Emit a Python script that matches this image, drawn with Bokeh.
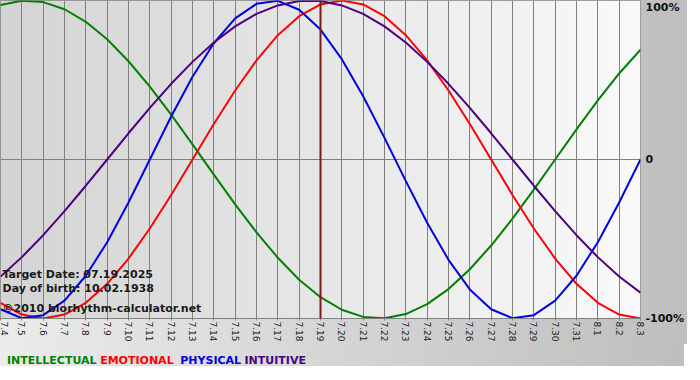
import math
import numpy as np
from bokeh.plotting import figure
from bokeh.layouts import column
from bokeh.models import Range1d, FixedTicker, Span, Label, LinearAxis
from bokeh.core.properties import value
from bokeh.embed import file_html
from bokeh.resources import INLINE

# ---- data ----
dates = ["7.4", "7.5", "7.6", "7.7", "7.8", "7.9", "7.10", "7.11", "7.12", "7.13",
         "7.14", "7.15", "7.16", "7.17", "7.18", "7.19", "7.20", "7.21", "7.22", "7.23",
         "7.24", "7.25", "7.26", "7.27", "7.28", "7.29", "7.30", "7.31", "8.1", "8.2", "8.3"]

intellectual = [97.2, 99.9, 99.0, 94.5, 86.6, 75.6, 61.8, 45.8, 28.2, 9.5, -9.5, -28.2,
                -45.8, -61.8, -75.6, -86.6, -94.5, -99.0, -99.9, -97.2, -91.0, -81.5,
                -69.0, -54.1, -37.2, -18.9, 0.0, 18.9, 37.2, 54.1, 69.0]
emotional = [-90.1, -97.5, -100.0, -97.5, -90.1, -78.2, -62.3, -43.4, -22.3, 0.0, 22.3,
             43.4, 62.3, 78.2, 90.1, 97.5, 100.0, 97.5, 90.1, 78.2, 62.3, 43.4, 22.3, 0.0,
             -22.3, -43.4, -62.3, -78.2, -90.1, -97.5, -100.0]
physical = [-94.2, -99.8, -97.9, -88.8, -73.1, -52.0, -27.0, 0.0, 27.0, 52.0, 73.1, 88.8,
            97.9, 99.8, 94.2, 81.7, 63.1, 39.8, 13.6, -13.6, -39.8, -63.1, -81.7, -94.2,
            -99.8, -97.9, -88.8, -73.1, -52.0, -27.0, 0.0]
intuitive = [-73.6, -61.4, -47.6, -32.5, -16.5, 0.0, 16.5, 32.5, 47.6, 61.4, 73.6, 83.7,
             91.6, 96.9, 99.7, 99.7, 96.9, 91.6, 83.7, 73.6, 61.4, 47.6, 32.5, 16.5, 0.0,
             -16.5, -32.5, -47.6, -61.4, -73.6, -83.7]

series_names = ["INTELLECTUAL", "EMOTIONAL", "PHYSICAL", "INTUITIVE"]
target_label = "7.19"
info_lines = ["Target Date: 07.19.2025", "Day of birth: 10.02.1938",
              "\u00a92010 biorhythm-calculator.net"]
y_tick_values = [-100, 0, 100]
y_tick_text = ["-100%", "0", "100%"]

# ---- styling ----
colors = ["#008000", "#ff0000", "#0000e0", "#4b0082"]
FONT = "DejaVu Sans"
GRID = "#808080"
FW, FH = 640, 318
TOTAL_W = 684
OUTER_BG = "linear-gradient(to right, #ebebeb, #bebebe)"
# right-axis label placement: the top label sits just inside the frame top
LAB_TOP = 104
label_pos = {-100: -100, 0: (LAB_TOP - 100) / 2, 100: 100}

xs = list(range(len(dates)))

fig = figure(frame_width=FW, frame_height=FH,
             x_range=Range1d(xs[0], xs[-1]), y_range=Range1d(-100, 100),
             output_backend="svg", toolbar_location=None, y_axis_location=None,
             min_border_left=0, min_border_top=0, min_border_right=TOTAL_W - FW,
             min_border_bottom=24)

fig.styles = {"background": OUTER_BG}
fig.border_fill_alpha = 0
fig.background_fill_color = "#e6e6e6"
fig.outline_line_color = GRID
fig.outline_line_width = 1

# inner horizontal gradient background
g = np.linspace(212, 250, FW).astype(np.uint8)
rgba = np.zeros((1, FW, 4), dtype=np.uint8)
rgba[..., 0] = g
rgba[..., 1] = g
rgba[..., 2] = g
rgba[..., 3] = 255
img = rgba.view(np.uint32).reshape(1, FW)
fig.image_rgba(image=[img], x=xs[0], y=-100, dw=xs[-1] - xs[0], dh=200, level="image")

# grids
fig.xgrid.ticker = FixedTicker(ticks=xs)
fig.xgrid.grid_line_color = GRID
fig.xgrid.grid_line_width = 1
fig.ygrid.ticker = FixedTicker(ticks=[0])
fig.ygrid.grid_line_color = GRID
fig.ygrid.grid_line_width = 1

# x axis
xa = fig.xaxis[0]
xa.ticker = FixedTicker(ticks=xs)
xa.major_label_overrides = {i: d for i, d in zip(xs, dates)}
xa.major_label_orientation = -math.pi / 2
xa.major_label_text_font = FONT
xa.major_label_text_font_size = "9px"
xa.major_label_text_color = "#222222"
xa.major_label_standoff = 1
xa.major_tick_out = 2
xa.major_tick_in = 0
xa.major_tick_line_color = GRID
xa.minor_tick_line_color = None
xa.axis_line_color = GRID

# right y axis
fig.extra_y_ranges = {"lab": Range1d(-100, LAB_TOP)}
ticks_at = [label_pos[v] for v in y_tick_values]
ya = LinearAxis(y_range_name="lab", ticker=FixedTicker(ticks=ticks_at))
ya.major_label_overrides = {t: s for t, s in zip(ticks_at, y_tick_text)}
ya.major_label_text_font = FONT
ya.major_label_text_font_style = "bold"
ya.major_label_text_font_size = "11px"
ya.major_label_text_color = "#111111"
ya.major_label_standoff = 5
ya.major_tick_out = 0
ya.major_tick_in = 0
ya.major_tick_line_color = None
ya.minor_tick_line_color = None
ya.axis_line_color = None
fig.add_layout(ya, "right")

# target date line
fig.add_layout(Span(location=dates.index(target_label), dimension="height",
                    line_color="#7a1a1a", line_width=2))

# curves
for vals, c in zip([intellectual, emotional, physical, intuitive], colors):
    fig.line(xs, vals, line_color=c, line_width=2)

# info text
for txt, yy in zip(info_lines, [44, 30, 10]):
    fig.add_layout(Label(x=2, y=yy, x_units="screen", y_units="screen", text=txt,
                         text_font=FONT, text_font_style="bold", text_font_size="11px",
                         text_color="#1a1a1a", text_baseline="alphabetic"))

# colored legend words (separate strip below the chart)
LEG_H = 22
leg = figure(width=TOTAL_W, height=LEG_H, x_range=Range1d(0, TOTAL_W), y_range=Range1d(0, LEG_H),
             output_backend="svg", toolbar_location=None, x_axis_location=None,
             y_axis_location=None, min_border=0)
leg.styles = {"background": OUTER_BG}
leg.border_fill_alpha = 0
leg.background_fill_alpha = 0
leg.outline_line_color = None
leg.xgrid.visible = False
leg.ygrid.visible = False
leg.text(x=[7, 107, 193, 262], y=[6] * 4, text=series_names, text_color=colors,
         text_font=value(FONT), text_font_style="bold", text_font_size="11px",
         text_baseline="alphabetic", text_align="left")

p = column(fig, leg, spacing=0)

open("out.html", "w").write(file_html(p, INLINE))
